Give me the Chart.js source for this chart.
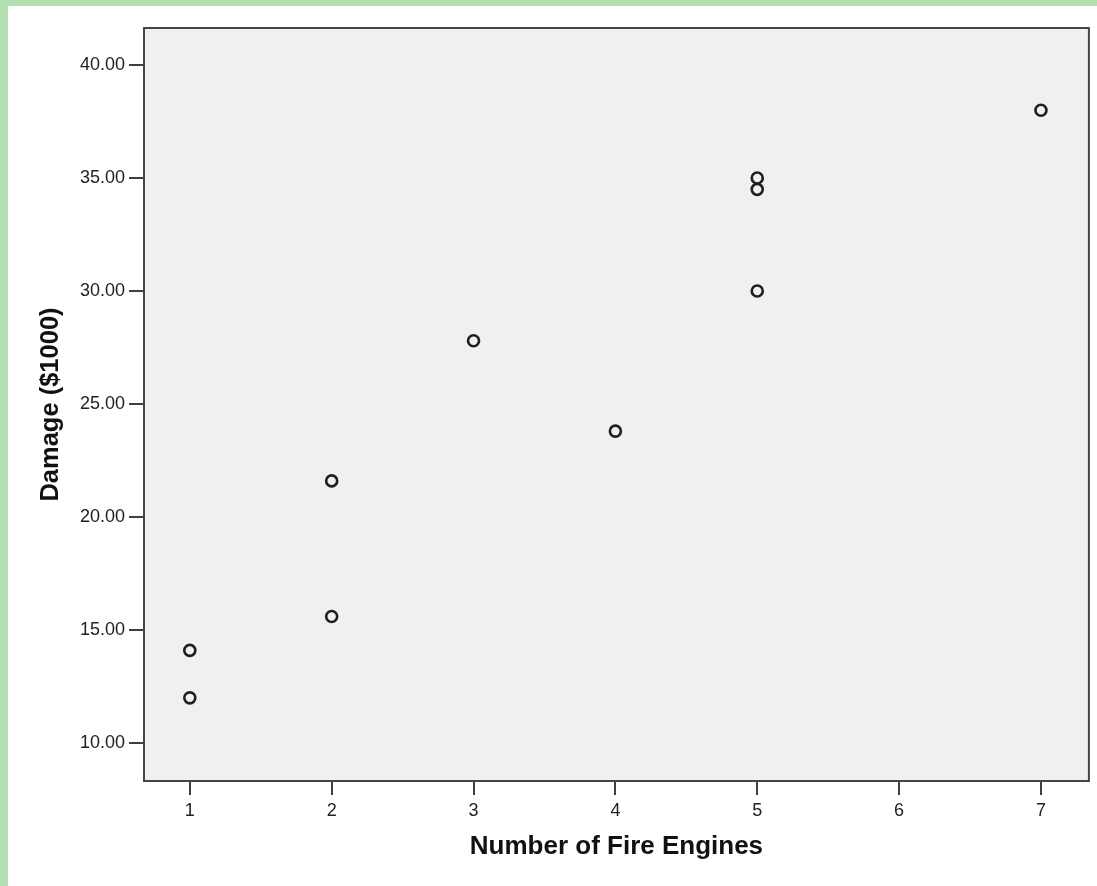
<!DOCTYPE html>
<html>
<head>
<meta charset="utf-8">
<script src="https://cdn.jsdelivr.net/npm/chart.js@4/dist/chart.umd.min.js"></script>
<style>
  html, body { margin: 0; padding: 0; background: #b3e0b3; overflow: hidden; }
  #wrap { position: absolute; left: 8px; top: 6px; width: 1089px; height: 880px; background: #ffffff; }
  canvas { display: block; }
</style>
</head>
<body>
<div id="wrap"><canvas id="c" width="1089" height="880"></canvas></div>
<script>
// ---- data ----
const fireEngines = [1, 1, 2, 2, 3, 4, 5, 5, 5, 7];
const damage = [14.1, 12.0, 15.6, 21.6, 27.8, 23.8, 30.0, 34.5, 35.0, 38.0];
const xTickValues = [1, 2, 3, 4, 5, 6, 7];
const yTickValues = [10, 15, 20, 25, 30, 35, 40];
const xTitle = 'Number of Fire Engines';
const yTitle = 'Damage ($1000)';

const points = fireEngines.map((x, i) => ({ x: x, y: damage[i] }));

const frame = {
  id: 'frame',
  beforeDraw(chart) {
    const { ctx, chartArea: a } = chart;
    ctx.save();
    ctx.fillStyle = '#f0f0f0';
    ctx.fillRect(a.left, a.top, a.right - a.left, a.bottom - a.top);
    ctx.restore();
  },
  afterDraw(chart) {
    const { ctx, chartArea: a } = chart;
    ctx.save();
    ctx.strokeStyle = '#454545';
    ctx.lineWidth = 2;
    ctx.strokeRect(a.left, a.top, a.right - a.left, a.bottom - a.top);
    ctx.restore();
  }
};

new Chart(document.getElementById('c'), {
  type: 'scatter',
  data: {
    datasets: [{
      data: points,
      pointRadius: 5.5,
      pointHoverRadius: 5.5,
      pointBorderWidth: 2.6,
      pointBorderColor: '#1e1e1e',
      pointBackgroundColor: 'rgba(0,0,0,0)',
      showLine: false
    }]
  },
  options: {
    responsive: false,
    animation: false,
    events: [],
    layout: { padding: { top: 22, right: 4, left: 0, bottom: 0 } },
    plugins: { legend: { display: false }, tooltip: { enabled: false } },
    scales: {
      x: {
        type: 'linear',
        min: 0.677,
        max: 7.338,
        afterBuildTicks(s) { s.ticks = xTickValues.map(v => ({ value: v })); },
        afterFit(s) { s.height = 105; },
        border: { display: false },
        grid: { drawOnChartArea: false, drawTicks: true, tickLength: 14, color: '#404040', lineWidth: 2 },
        ticks: { color: '#222', font: { family: 'Liberation Sans, Arial, sans-serif', size: 18 }, padding: 5, maxRotation: 0,
                 callback: v => String(v) },
        title: { display: true, text: xTitle, color: '#111',
                 font: { family: 'Liberation Sans, Arial, sans-serif', size: 26, weight: 'bold' },
                 padding: { top: 0, bottom: 24 } }
      },
      y: {
        type: 'linear',
        min: 8.32,
        max: 41.64,
        afterBuildTicks(s) { s.ticks = yTickValues.map(v => ({ value: v })); },
        afterFit(s) { s.width = 136; },
        border: { display: false },
        grid: { drawOnChartArea: false, drawTicks: true, tickLength: 15, color: '#404040', lineWidth: 2 },
        ticks: { color: '#222', font: { family: 'Liberation Sans, Arial, sans-serif', size: 18 }, padding: 4,
                 callback: v => Number(v).toFixed(2) },
        title: { display: true, text: yTitle, color: '#111',
                 font: { family: 'Liberation Sans, Arial, sans-serif', size: 25.5, weight: 'bold' },
                 padding: { top: 28, bottom: 0 } }
      }
    }
  },
  plugins: [frame]
});
</script>
</body>
</html>
